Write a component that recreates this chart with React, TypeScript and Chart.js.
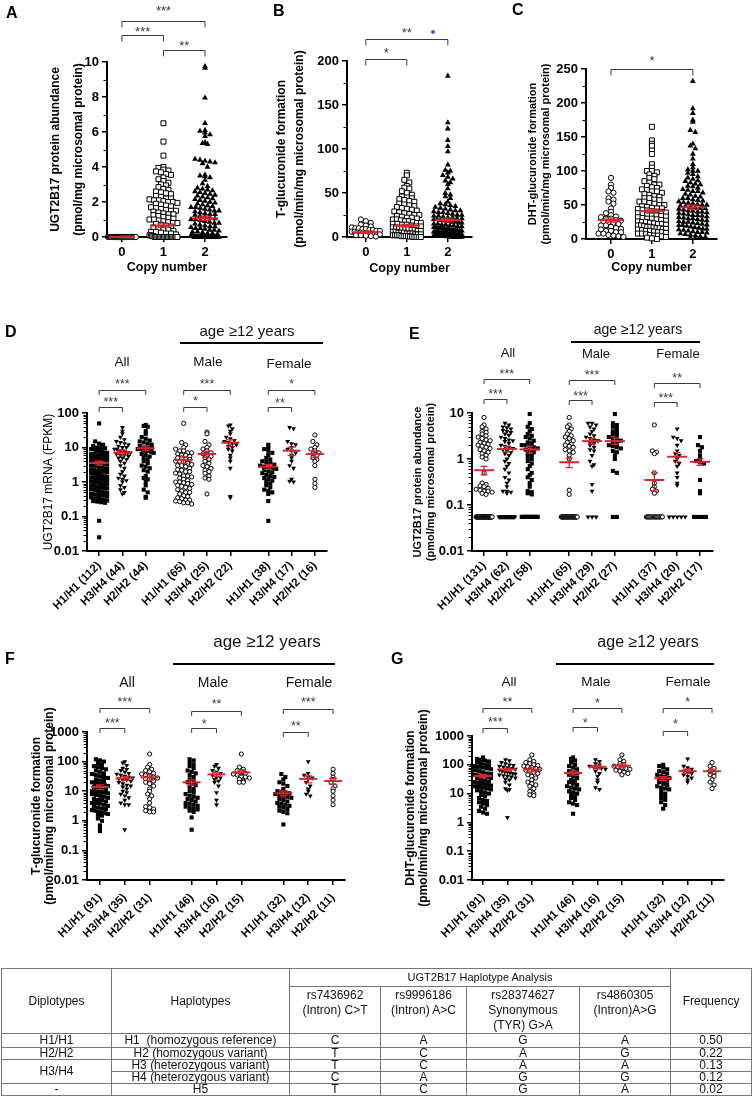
import React, { useEffect, useRef } from 'react';
import { Chart, registerables } from 'chart.js';

Chart.register(...registerables);

const FONT = 'Arial, "Liberation Sans", Helvetica, sans-serif';
const RED = '#d8262e';
const INK = '#000';
const BRACKET = '#3a3a3a';

// ---------------- data: panels A-C (copy number) ----------------
const copyNumbers = ['0', '1', '2'];

const aCopy0 = [0, 0, 0, 0, 0, 0, 0, 0, 0, 0, 0, 0, 0, 0, 0, 0, 0, 0, 0, 0, 0, 0, 0, 0, 0, 0, 0, 0, 0, 0];
const aCopy1 = [6.5, 5.45, 4.65, 4.0, 3.95, 3.85, 3.8, 3.75, 3.7, 3.6, 3.55, 3.4, 3.3, 3.2, 3.1, 3.0, 2.95, 2.85, 2.75, 2.7, 2.6, 2.55, 2.5, 2.45, 2.35, 2.3, 2.2, 2.2, 2.15, 2.1, 2.1, 2.05, 2.0, 2.0, 1.95, 1.9, 1.85, 1.8, 1.75, 1.7, 1.65, 1.6, 1.55, 1.5, 1.5, 1.45, 1.4, 1.35, 1.3, 1.3, 1.25, 1.2, 1.15, 1.1, 1.05, 1.0, 1.0, 0.95, 0.9, 0.85, 0.8, 0.8, 0.75, 0.7, 0.65, 0.6, 0.55, 0.5, 0.45, 0.4, 0.35, 0.3, 0.3, 0.25, 0.2, 0.2, 0.15, 0.1, 0.1, 0.05, 0.05, 0, 0, 0, 0, 0, 0, 0, 0, 0, 0, 0, 0, 0, 0, 0, 0, 0, 0];
const aCopy2 = [9.75, 9.65, 7.95, 6.5, 6.1, 6.05, 5.95, 5.85, 5.75, 5.4, 5.35, 5.3, 4.45, 4.4, 4.35, 4.3, 4.25, 4.2, 4.0, 3.55, 3.5, 3.45, 3.4, 3.25, 3.05, 2.9, 2.8, 2.75, 2.7, 2.65, 2.6, 2.55, 2.5, 2.45, 2.4, 2.35, 2.3, 2.25, 2.2, 2.15, 2.1, 2.05, 2.0, 1.95, 1.9, 1.85, 1.8, 1.75, 1.7, 1.7, 1.65, 1.6, 1.55, 1.5, 1.5, 1.45, 1.4, 1.35, 1.3, 1.3, 1.25, 1.2, 1.15, 1.1, 1.05, 1.0, 1.0, 0.95, 0.9, 0.85, 0.8, 0.8, 0.75, 0.7, 0.65, 0.6, 0.6, 0.55, 0.5, 0.5, 0.45, 0.4, 0.4, 0.35, 0.3, 0.3, 0.25, 0.2, 0.2, 0.15, 0.1, 0.1, 0.05, 0.05, 0, 0, 0, 0, 0, 0, 0, 0, 0, 0, 0, 0, 0, 0, 0, 0, 0, 0, 0, 0, 0, 0, 0, 0, 0, 0, 0, 0, 0, 0, 0, 0, 0, 0, 0];
const aMeans = [0, 0.65, 1.07];
const aSems = [0, 0.1, 0.12];
const aStars = ['***', '***', '**'];

const bCopy0 = [20, 18, 16, 14, 13, 12, 11, 10, 10, 9, 9, 8, 8, 7, 7, 6, 6, 5, 5, 5, 4, 4, 4, 3, 3, 3, 2, 2, 1.5, 1, 0.5];
const bCopy1 = [73, 70, 65, 62, 58, 56, 55, 52, 50, 48, 46, 45, 44, 43, 42, 41, 40, 38, 37, 36, 35, 34, 33, 32, 31, 30, 29, 28, 27, 26, 25, 25, 24, 23, 22, 22, 21, 20, 20, 19, 18, 18, 17, 16, 16, 15, 15, 14, 14, 13, 12, 12, 11, 11, 10, 10, 9, 9, 8, 8, 7, 7, 6, 6, 5, 5, 5, 4, 4, 4, 3, 3, 3, 2, 2, 2, 2, 1, 1, 1, 1, 0.5, 0.5, 0, 0, 0, 0];
const bCopy2 = [183, 130, 123, 110, 103, 97, 82, 76, 75, 73, 70, 68, 66, 64, 62, 60, 55, 50, 48, 46, 44, 40, 38, 37, 36, 35, 34, 33, 32, 31, 30, 30, 29, 28, 28, 27, 26, 25, 25, 24, 24, 23, 22, 22, 21, 21, 20, 20, 19, 19, 18, 18, 17, 17, 16, 16, 15, 15, 14, 14, 13, 13, 12, 12, 11, 11, 10, 10, 10, 9, 9, 9, 8, 8, 8, 7, 7, 7, 6, 6, 6, 5, 5, 5, 5, 4, 4, 4, 4, 3, 3, 3, 3, 2, 2, 2, 2, 1, 1, 1, 1, 1, 0.5, 0.5, 0.5, 0, 0, 0, 0, 0, 0, 0];
const bMeans = [5.3, 12.9, 19.3];
const bSems = [1.1, 1.5, 2.2];
const bStars = ['**', '*'];

const cCopy0 = [90, 80, 75, 70, 68, 60, 58, 55, 52, 45, 40, 38, 35, 33, 32, 30, 30, 28, 27, 26, 25, 24, 22, 20, 20, 18, 16, 15, 14, 12, 12, 10, 10, 8, 8, 6, 5, 4, 3];
const cCopy1 = [165, 145, 140, 137, 130, 125, 110, 105, 100, 100, 98, 95, 93, 90, 88, 85, 83, 80, 80, 78, 76, 75, 73, 72, 70, 70, 68, 66, 65, 63, 62, 60, 60, 58, 57, 55, 55, 53, 52, 50, 50, 48, 47, 46, 45, 45, 44, 43, 42, 41, 40, 40, 39, 38, 37, 36, 35, 35, 34, 33, 32, 31, 30, 30, 29, 28, 27, 26, 25, 25, 24, 23, 22, 22, 21, 20, 20, 19, 18, 18, 17, 16, 16, 15, 15, 14, 13, 12, 12, 11, 10, 10, 9, 8, 8, 7, 6, 5, 5, 4, 3, 2, 1, 0];
const cCopy2 = [232, 192, 185, 175, 172, 160, 157, 140, 137, 133, 125, 118, 110, 105, 102, 100, 100, 97, 95, 92, 90, 88, 86, 85, 83, 81, 80, 78, 77, 75, 73, 72, 70, 70, 68, 66, 65, 63, 62, 60, 60, 58, 57, 56, 55, 54, 53, 52, 51, 50, 50, 49, 48, 47, 46, 45, 45, 44, 43, 42, 41, 40, 40, 39, 38, 37, 36, 35, 35, 34, 33, 32, 31, 30, 30, 29, 28, 27, 26, 25, 25, 24, 23, 22, 21, 20, 20, 19, 18, 17, 16, 15, 15, 14, 13, 12, 11, 10, 10, 9, 8, 7, 6, 5, 4, 3, 2, 1];
const cMeans = [28, 41, 46.5];
const cSems = [3, 3, 3.3];
const cStars = ['*'];

// ---------------- data: panels D-G (diplotypes) ----------------
const groupNames = ['All', 'Male', 'Female'];
const ageHeading = 'age \u226512 years';

const dLabels = ['H1/H1 (112)', 'H3/H4 (44)', 'H2/H2 (44)', 'H1/H1 (65)', 'H3/H4 (25)', 'H2/H2 (22)', 'H1/H1 (38)', 'H3/H4 (17)', 'H2/H2 (16)'];
const dAllH11 = [50, 15, 13, 12, 11, 10, 10, 9.5, 9, 9, 8.5, 8, 8, 7.5, 7, 7, 6.5, 6.5, 6, 6, 5.5, 5.5, 5, 5, 4.7, 4.5, 4.3, 4, 4, 3.8, 3.6, 3.4, 3.2, 3, 3, 2.9, 2.7, 2.6, 2.5, 2.4, 2.3, 2.2, 2.1, 2, 2, 1.9, 1.8, 1.75, 1.7, 1.6, 1.55, 1.5, 1.45, 1.4, 1.35, 1.3, 1.25, 1.2, 1.15, 1.1, 1.05, 1, 1, 0.95, 0.9, 0.88, 0.85, 0.8, 0.78, 0.75, 0.72, 0.7, 0.67, 0.65, 0.62, 0.6, 0.58, 0.55, 0.52, 0.5, 0.48, 0.46, 0.44, 0.42, 0.4, 0.38, 0.36, 0.34, 0.32, 0.3, 0.29, 0.28, 0.27, 0.26, 0.25, 0.075, 0.025];
const dAllH34 = [38, 30, 25, 20, 17, 15, 14, 13, 12, 11, 10, 10, 9, 9, 8, 8, 7.5, 7, 7, 6.5, 6, 6, 5.5, 5, 5, 4.5, 4, 3.5, 3, 2.5, 2, 1.7, 1.5, 1.3, 1.2, 1.1, 1.0, 0.8, 0.7, 0.6, 0.5, 0.45];
const dAllH22 = [45, 42, 40, 30, 25, 20, 18, 16, 15, 14, 13, 12, 11, 10, 10, 9.5, 9, 9, 8.5, 8, 8, 7.5, 7, 6.5, 6, 5.5, 5, 4.5, 4, 3.5, 3, 2.8, 2.5, 2.2, 2, 1.5, 1.3, 1.2, 1, 0.8, 0.6, 0.5, 0.37, 0.35];
const dMaleH11 = [50, 14, 12, 10, 9, 8, 8, 7, 7, 6.5, 6, 6, 5.5, 5, 5, 4.5, 4.5, 4, 4, 3.8, 3.5, 3.2, 3, 3, 2.8, 2.5, 2.3, 2.2, 2, 2, 1.8, 1.7, 1.5, 1.5, 1.4, 1.3, 1.2, 1.1, 1, 1, 0.95, 0.9, 0.85, 0.8, 0.75, 0.7, 0.65, 0.6, 0.55, 0.5, 0.5, 0.45, 0.4, 0.38, 0.35, 0.33, 0.3, 0.3, 0.28, 0.27, 0.25, 0.25, 0.23];
const dMaleH34 = [28, 25, 15, 12, 10, 9, 8, 7, 6.5, 6, 5.5, 5, 4.5, 4, 3.5, 3, 2.8, 2.5, 2.2, 2, 1.8, 1.5, 1.3, 1.2, 0.45];
const dMaleH22 = [45, 42, 35, 30, 25, 20, 18, 16, 15, 14, 13, 12, 11, 10, 9, 8, 6, 5, 4, 2.5, 0.38, 0.35];
const dFemH11 = [12, 10, 9, 8, 7, 6, 5, 4.5, 4, 3.8, 3.5, 3.2, 3, 2.8, 2.6, 2.5, 2.4, 2.2, 2, 1.9, 1.8, 1.6, 1.5, 1.4, 1.3, 1.2, 1.1, 1, 0.9, 0.8, 0.7, 0.6, 0.55, 0.5, 0.45, 0.28, 0.075];
const dFemH34 = [38, 35, 15, 13, 12, 10, 9, 8, 7, 6, 5, 4, 3, 2.5, 1.2, 1.05, 1.0];
const dFemH22 = [23, 15, 12, 10, 9, 8, 7, 6.5, 6, 5, 4.5, 4, 3, 1.2, 0.9, 0.7];
const dMeans = [3.55, 7.1, 9.5, 4.35, 6.5, 13.8, 2.77, 8.1, 6.5];
const dSems = [0.45, 1.1, 1.5, 0.9, 1.4, 2.8, 0.45, 2.2, 1.5];
const dStars = ['***', '***', '***', '*', '*', '**'];

const eLabels = ['H1/H1 (131)', 'H3/H4 (62)', 'H2/H2 (58)', 'H1/H1 (65)', 'H3/H4 (29)', 'H2/H2 (27)', 'H1/H1 (37)', 'H3/H4 (20)', 'H2/H2 (17)'];
const eAllH11 = [8, 5.5, 5, 4.5, 4, 3.8, 3.5, 3.2, 3, 2.8, 2.6, 2.5, 2.3, 2.2, 2.1, 2, 1.9, 1.8, 1.7, 1.6, 1.5, 1.4, 1.3, 1.2, 1.1, 1.0, 0.5, 0.3, 0.28, 0.26, 0.25, 0.23, 0.22, 0.21, 0.2, 0.2, 0.19, 0.18, 0.17, 0.055, 0.055, 0.055, 0.055, 0.055, 0.055, 0.055, 0.055, 0.055, 0.055, 0.055, 0.055, 0.055, 0.055, 0.055, 0.055, 0.055, 0.055, 0.055, 0.055, 0.055, 0.055, 0.055, 0.055, 0.055, 0.055, 0.055, 0.055, 0.055, 0.055, 0.055, 0.055, 0.055, 0.055, 0.055];
const eAllH34 = [6, 5.5, 5, 4.8, 4.5, 4.2, 4, 3.8, 3.5, 3.3, 3, 2.8, 2.6, 2.5, 2.4, 2.2, 2, 1.9, 1.8, 1.7, 1.6, 1.5, 1.4, 1.3, 1.2, 1.0, 0.9, 0.8, 0.7, 0.6, 0.5, 0.4, 0.35, 0.3, 0.25, 0.2, 0.2, 0.19, 0.18, 0.055, 0.055, 0.055, 0.055, 0.055, 0.055, 0.055, 0.055, 0.055, 0.055, 0.055, 0.055, 0.055, 0.055, 0.055, 0.055, 0.055, 0.055, 0.055, 0.055];
const eAllH22 = [9.5, 6, 5, 4.5, 4, 3.5, 3.2, 3, 2.8, 2.5, 2.3, 2.2, 2, 2, 1.9, 1.8, 1.7, 1.6, 1.5, 1.4, 1.3, 1.2, 1.1, 1.0, 0.9, 0.8, 0.7, 0.6, 0.5, 0.45, 0.4, 0.35, 0.3, 0.25, 0.2, 0.19, 0.18, 0.17, 0.055, 0.055, 0.055, 0.055, 0.055, 0.055, 0.055, 0.055, 0.055, 0.055, 0.055, 0.055, 0.055, 0.055, 0.055, 0.055, 0.055, 0.055, 0.055, 0.055];
const eMaleH11 = [8, 5.5, 5, 4.5, 4, 3.5, 3.2, 3, 2.8, 2.5, 2.3, 2.1, 2, 1.9, 1.8, 1.6, 1.5, 1.4, 1.2, 1.0, 0.21, 0.17, 0.055, 0.055, 0.055, 0.055, 0.055, 0.055, 0.055, 0.055, 0.055, 0.055, 0.055, 0.055, 0.055, 0.055, 0.055, 0.055, 0.055, 0.055, 0.055, 0.055, 0.055, 0.055, 0.055, 0.055, 0.055];
const eMaleH34 = [6, 6, 5.5, 5, 4.5, 4, 3.5, 3.2, 3, 2.8, 2.6, 2.5, 2.3, 2.2, 2, 1.8, 1.6, 1.5, 1.2, 0.9, 0.75, 0.7, 0.28, 0.2, 0.055, 0.055, 0.055];
const eMaleH22 = [9.5, 6, 5.5, 5, 4.5, 4, 3.8, 3.5, 3.2, 3, 2.8, 2.6, 2.5, 2.3, 2.2, 2, 1.9, 1.8, 1.7, 1.5, 1.4, 1.2, 1.0, 0.55, 0.5, 0.055, 0.055];
const eFemH11 = [5.5, 1.5, 1.4, 1.3, 0.5, 0.3, 0.25, 0.22, 0.2, 0.18, 0.055, 0.055, 0.055, 0.055, 0.055, 0.055, 0.055, 0.055, 0.055, 0.055, 0.055, 0.055, 0.055, 0.055, 0.055];
const eFemH34 = [4.5, 3, 2.8, 2.5, 2, 1.5, 1.3, 1.2, 1.0, 0.9, 0.8, 0.7, 0.5, 0.4, 0.3, 0.27, 0.055, 0.055, 0.055, 0.055, 0.055];
const eFemH22 = [3, 2, 1.8, 1.5, 1.2, 1.0, 0.9, 0.85, 0.8, 0.35, 0.2, 0.18, 0.055, 0.055, 0.055, 0.055];
const eMeans = [0.57, 1.65, 1.62, 0.85, 2.45, 2.45, 0.35, 1.12, 0.87];
const eSems = [0.12, 0.22, 0.28, 0.2, 0.35, 0.38, 0.15, 0.25, 0.14];
const eStars = ['***', '***', '***', '***', '**', '***'];

const fgLabels = ['H1/H1 (91)', 'H3/H4 (35)', 'H2/H2 (31)', 'H1/H1 (46)', 'H3/H4 (16)', 'H2/H2 (15)', 'H1/H1 (32)', 'H3/H4 (12)', 'H2/H2 (11)'];
const fAllH11 = [120, 110, 100, 90, 80, 70, 65, 60, 55, 50, 45, 40, 38, 35, 32, 30, 28, 25, 23, 22, 20, 19, 18, 17, 16, 15, 14, 13, 12, 11, 10, 10, 9.5, 9, 8.5, 8, 7.5, 7, 6.5, 6, 5.5, 5, 5, 4.5, 4, 4, 3.8, 3.5, 3.2, 3, 2.8, 2.6, 2.5, 2.3, 2.2, 2, 1.9, 1.8, 1.7, 1.6, 1.5, 1.2, 1.0, 0.7, 0.6, 0.45];
const fAllH34 = [100, 90, 75, 60, 55, 50, 45, 40, 38, 35, 32, 30, 28, 26, 25, 24, 22, 20, 18, 16, 15, 14, 12, 10, 9, 8, 7, 6, 5, 4, 3.5, 3.5, 0.5];
const fAllH22 = [180, 80, 65, 55, 50, 45, 40, 38, 35, 33, 30, 28, 26, 25, 22, 20, 18, 15, 12, 10, 8, 7, 5.5, 4, 3, 2.8, 2.5, 2.2, 2, 2];
const fMaleH11 = [120, 110, 90, 80, 70, 60, 50, 45, 40, 35, 30, 25, 22, 20, 18, 16, 14, 12, 10, 9, 8, 7, 6.5, 6, 5.5, 5, 4.5, 4, 3.8, 3.5, 3.2, 3, 2.8, 2.6, 2.4, 2.2, 2, 1.3, 0.5];
const fMaleH34 = [80, 70, 60, 50, 45, 40, 35, 30, 28, 25, 22, 20, 15, 9, 5, 3.5];
const fMaleH22 = [180, 65, 55, 50, 45, 40, 38, 35, 32, 30, 28, 25, 22, 20, 20];
const fFemH11 = [38, 30, 25, 20, 18, 15, 12, 10, 9.5, 9, 8.5, 8, 7.5, 7, 6.5, 6, 5.5, 5, 4.5, 4, 3.8, 3.5, 3.2, 3, 2.8, 2.5, 2.2, 2, 1.8, 0.75];
const fFemH34 = [100, 40, 35, 30, 28, 25, 20, 15, 12, 10, 8, 7];
const fFemH22 = [55, 40, 30, 25, 20, 15, 12, 10, 7, 5, 3.5];
const fMeans = [13.8, 27, 29.5, 20, 37, 43, 8.5, 26, 22];
const fSems = [2.5, 4, 6, 4, 6, 9, 1.5, 7, 5];
const fStars = ['***', '***', '**', '*', '***', '**'];

const gAllH11 = [180, 160, 150, 140, 130, 120, 110, 100, 95, 90, 85, 80, 75, 70, 65, 60, 55, 50, 48, 45, 42, 40, 38, 35, 33, 30, 28, 26, 25, 23, 22, 20, 19, 18, 17, 16, 15, 14, 13, 12, 11, 10, 9, 8, 7, 6, 5.5, 5, 4.5, 4, 3.5, 3, 2.5, 2.2, 2];
const gAllH34 = [150, 140, 120, 110, 100, 95, 90, 85, 80, 75, 70, 65, 60, 58, 55, 52, 50, 48, 45, 42, 40, 38, 35, 32, 30, 25, 20, 15, 14, 13, 1.5];
const gAllH22 = [220, 150, 130, 120, 110, 100, 95, 90, 85, 80, 75, 70, 65, 60, 55, 50, 45, 40, 35, 30, 25, 22, 20, 18, 15, 12, 10, 9, 8.5];
const gMaleH11 = [180, 160, 140, 120, 100, 90, 80, 70, 60, 55, 50, 45, 40, 35, 30, 28, 25, 22, 20, 18, 16, 15, 14, 12, 11, 10, 9, 8, 7, 6, 5, 4.5, 4, 2];
const gMaleH34 = [150, 130, 110, 100, 90, 85, 80, 75, 70, 60, 50, 40, 30, 25, 16, 14];
const gMaleH22 = [220, 150, 130, 110, 100, 90, 85, 80, 75, 70, 65, 60, 55, 50, 45];
const gFemH11 = [100, 90, 80, 70, 60, 55, 50, 45, 40, 38, 35, 32, 30, 28, 25, 22, 20, 18, 16, 15, 14, 12, 10, 9, 8, 7, 6, 5, 4, 3];
const gFemH34 = [160, 90, 80, 70, 60, 55, 50, 45, 40, 35, 30, 25];
const gFemH22 = [120, 90, 75, 60, 50, 45, 40, 30, 25, 20, 15];
const gMeans = [41, 69, 69, 52, 85, 93, 34, 60, 60];
const gSems = [5, 8, 12, 8, 12, 15, 5, 10, 11];
const gStars = ['**', '***', '*', '*', '*', '*'];

// ---------------- table data ----------------
const tableTitle = 'UGT2B17 Haplotype Analysis';
const snpIds = ['rs7436962', 'rs9996186', 'rs28374627', 'rs4860305'];
const snpDescs = [['(Intron) C>T'], ['(Intron) A>C'], ['Synonymous', '(TYR) G>A'], ['(Intron)A>G']];
const diplotypes = ['H1/H1', 'H2/H2', 'H3/H4', 'H3/H4', '-'];
const haplotypes = ['H1  (homozygous reference)', 'H2 (homozygous variant)', 'H3 (heterozygous variant)', 'H4 (heterozygous variant)', 'H5'];
const alleles = [['C', 'A', 'G', 'A'], ['T', 'C', 'A', 'G'], ['T', 'C', 'A', 'A'], ['C', 'A', 'G', 'G'], ['T', 'C', 'G', 'A']];
const frequencies = ['0.50', '0.22', '0.13', '0.12', '0.02'];

// ---------------- helpers ----------------
function logMinors(lo: number, hi: number) {
  const out: number[] = [];
  for (let e = Math.round(Math.log10(lo)); e < Math.round(Math.log10(hi)); e++) {
    for (let m = 2; m <= 9; m++) out.push(m * Math.pow(10, e));
  }
  return out;
}
function groupPositions(n: number, gap: number) {
  return Array.from({ length: n }, (_, i) => (i % 3) + Math.floor(i / 3) * gap);
}

function swarm(values: number[], cx: number, s: any) {
  const f = (v: number) => (s.yType === 'logarithmic' ? Math.log10(v) : v);
  const lo = f(s.yMin), hi = f(s.yMax);
  const hPx = s.area.b - s.area.t;
  const pxPerX = (s.area.r - s.area.l) / (s.xMax - s.xMin);
  const rows = new Map<number, number[]>();
  values.forEach((v) => {
    const k = Math.round((((f(v) - lo) / (hi - lo)) * hPx) / s.binPx);
    if (!rows.has(k)) rows.set(k, []);
    rows.get(k)!.push(v);
  });
  const pts: { x: number; y: number }[] = [];
  rows.forEach((row) => {
    const n = row.length;
    let step = s.stepPx;
    if (n > 1 && ((n - 1) * step) / 2 > s.maxHalfPx) step = (2 * s.maxHalfPx) / (n - 1);
    row.forEach((v, i) => pts.push({ x: cx + ((i - (n - 1) / 2) * step) / pxPerX, y: v }));
  });
  return pts;
}

function buildConfig(s: any) {
  const L = s.area.l - s.left, R = s.area.r - s.left, T = s.area.t - s.top, B = s.area.b - s.top;
  const xH = s.h - B;
  const marker = (m: string) => {
    switch (m) {
      case 'sq': return { pointStyle: 'rect', pointRadius: s.rectR, backgroundColor: INK, borderWidth: 0 };
      case 'osq': return { pointStyle: 'rect', pointRadius: s.rectR, backgroundColor: '#fff', borderWidth: 1 };
      case 'oc': return { pointStyle: 'circle', pointRadius: s.circR, backgroundColor: '#fff', borderWidth: 1 };
      case 'tri': return { pointStyle: 'triangle', pointRadius: s.triR, backgroundColor: INK, borderWidth: 0 };
      default: return { pointStyle: 'triangle', pointRadius: s.triR, rotation: 180, pointRotation: 180, backgroundColor: INK, borderWidth: 0 };
    }
  };
  const datasets = s.groups.map((g: any, i: number) => ({
    data: swarm(g.values, s.xs[i], s),
    borderColor: INK,
    clip: false,
    showLine: false,
    ...marker(g.marker),
  }));
  const yTitleLH = s.yTitleLine;
  const overlay = {
    id: 'panelOverlay',
    afterDatasetsDraw(chart: any) {
      const { ctx } = chart;
      const xs = chart.scales.x, ys = chart.scales.y;
      ctx.save();
      ctx.strokeStyle = RED;
      s.means.forEach((m: number, i: number) => {
        const cx = xs.getPixelForValue(s.xs[i]);
        const py = ys.getPixelForValue(m);
        ctx.lineWidth = 2;
        ctx.beginPath();
        ctx.moveTo(cx - s.meanHalf, py);
        ctx.lineTo(cx + s.meanHalf, py);
        ctx.stroke();
        const e = s.sems[i];
        if (e > 0) {
          const pt = ys.getPixelForValue(m + e);
          const pb = ys.getPixelForValue(Math.max(m - e, s.yMin));
          ctx.lineWidth = 1.3;
          ctx.beginPath();
          ctx.moveTo(cx, pt); ctx.lineTo(cx, pb);
          ctx.moveTo(cx - s.capHalf, pt); ctx.lineTo(cx + s.capHalf, pt);
          ctx.moveTo(cx - s.capHalf, pb); ctx.lineTo(cx + s.capHalf, pb);
          ctx.stroke();
        }
      });
      ctx.restore();
    },
    afterDraw(chart: any) {
      const { ctx, chartArea } = chart;
      const xs = chart.scales.x, ys = chart.scales.y;
      ctx.save();
      ctx.strokeStyle = INK;
      ctx.lineWidth = 1;
      s.yMinor.forEach((v: number) => {
        const py = Math.round(ys.getPixelForValue(v)) + 0.5;
        ctx.beginPath();
        ctx.moveTo(chartArea.left - 3.5, py);
        ctx.lineTo(chartArea.left, py);
        ctx.stroke();
      });
      ctx.strokeStyle = BRACKET;
      ctx.fillStyle = BRACKET;
      ctx.lineWidth = 1;
      ctx.font = `${s.starSize}px ${FONT}`;
      ctx.textAlign = 'center';
      ctx.textBaseline = 'alphabetic';
      s.brackets.forEach((b: number[], i: number) => {
        const x1 = xs.getPixelForValue(s.xs[b[0]]);
        const x2 = xs.getPixelForValue(s.xs[b[1]]);
        const yl = b[2] - s.top + 0.5;
        ctx.beginPath();
        ctx.moveTo(x1, yl + s.drop);
        ctx.lineTo(x1, yl);
        ctx.lineTo(x2, yl);
        ctx.lineTo(x2, yl + s.drop);
        ctx.stroke();
        ctx.fillText(s.stars[i], (x1 + x2) / 2, b[3] - s.top + 0.57 * s.starSize);
      });
      ctx.restore();
    },
  };
  const gridOpts = { display: true, drawOnChartArea: false, drawTicks: true, tickLength: 5, color: INK, lineWidth: 1.5 };
  const borderOpts = { display: true, color: INK, width: 2 };
  const xTitleLH = s.xTitle ? s.xTitleSize * 1.2 : 0;
  return {
    type: 'scatter',
    data: { datasets },
    plugins: [overlay],
    options: {
      animation: false,
      responsive: false,
      maintainAspectRatio: false,
      devicePixelRatio: 1,
      events: [],
      layout: { padding: { left: 0, top: T, right: s.w - R, bottom: 0 } },
      plugins: { legend: { display: false }, tooltip: { enabled: false } },
      scales: {
        x: {
          type: 'linear',
          bounds: 'data',
          min: s.xMin,
          max: s.xMax,
          afterBuildTicks: (sc: any) => { sc.ticks = s.xs.map((v: number) => ({ value: v })); },
          afterFit: (sc: any) => { sc.height = xH; sc.paddingLeft = 0; sc.paddingRight = 0; sc.paddingTop = 0; sc.paddingBottom = 0; },
          ticks: {
            autoSkip: false,
            maxRotation: s.rot,
            minRotation: s.rot,
            padding: s.xTickPad,
            color: INK,
            font: { family: FONT, size: s.xTickSize, weight: 'bold' },
            callback: (_v: any, i: number) => s.xLabels[i] ?? '',
          },
          grid: gridOpts,
          border: borderOpts,
          title: s.xTitle
            ? {
                display: true,
                text: s.xTitle,
                color: INK,
                font: { family: FONT, size: s.xTitleSize, weight: 'bold', lineHeight: 1.2 },
                padding: { top: 0, bottom: s.h - (s.xTitleY - s.top) - xTitleLH / 2 },
              }
            : { display: false },
        },
        y: {
          type: s.yType,
          bounds: 'data',
          min: s.yMin,
          max: s.yMax,
          afterBuildTicks: (sc: any) => { sc.ticks = s.yTicks.map((v: number) => ({ value: v })); },
          afterFit: (sc: any) => { sc.width = L; sc.paddingTop = 0; sc.paddingBottom = 0; sc.paddingLeft = 0; sc.paddingRight = 0; },
          ticks: {
            autoSkip: false,
            padding: 3,
            color: INK,
            font: { family: FONT, size: s.yTickSize, weight: 'bold' },
            callback: (v: any) => String(v),
          },
          grid: gridOpts,
          border: borderOpts,
          title: {
            display: true,
            text: s.yTitle,
            color: INK,
            font: { family: FONT, size: s.yTitleSize, weight: s.yTitleWeight, lineHeight: yTitleLH + 'px' },
            padding: { top: s.yTitleX - s.left - yTitleLH / 2, bottom: 0 },
          },
        },
      },
    },
  };
}

function DotPanel({ spec }: { spec: any }) {
  const ref = useRef<HTMLCanvasElement>(null);
  useEffect(() => {
    const chart = new Chart(ref.current as HTMLCanvasElement, buildConfig(spec) as any);
    return () => chart.destroy();
  }, [spec]);
  return (
    <canvas
      ref={ref}
      width={spec.w}
      height={spec.h}
      style={{ position: 'absolute', left: spec.left, top: spec.top, width: spec.w, height: spec.h }}
    />
  );
}

// ---------------- panel specs (layout and style) ----------------
const topCommon = { rot: 0, xTickSize: 13, xTickPad: 3, yTickSize: 13, xTitle: 'Copy number', xTitleSize: 12.5, yType: 'linear', binPx: 4, stepPx: 5, maxHalfPx: 14, circR: 2.6, rectR: 3.5, triR: 3.4, meanHalf: 13, capHalf: 6, starSize: 13, drop: 6, yTitleWeight: 'bold', xs: [0, 1, 2], xLabels: copyNumbers };

const specA = {
  ...topCommon, left: 0, top: 0, w: 250, h: 285, area: { l: 107, r: 227, t: 62, b: 237 },
  xMin: -0.36, xMax: 2.53, xTitleY: 268,
  yMin: 0, yMax: 10, yTicks: [0, 2, 4, 6, 8, 10], yMinor: [1, 3, 5, 7, 9],
  yTitle: ['UGT2B17 protein abundance', '(pmol/mg microsomal protein)'], yTitleSize: 12, yTitleLine: 23, yTitleX: 56,
  groups: [{ values: aCopy0, marker: 'oc' }, { values: aCopy1, marker: 'osq' }, { values: aCopy2, marker: 'tri' }],
  means: aMeans, sems: aSems, stars: aStars,
  brackets: [[0, 2, 21, 8], [0, 1, 35, 29], [1, 2, 50, 43]],
};
const specB = {
  ...topCommon, left: 250, top: 0, w: 250, h: 285, area: { l: 347, r: 472, t: 61, b: 237 },
  xMin: -0.46, xMax: 2.59, xTitleY: 269,
  yMin: 0, yMax: 200, yTicks: [0, 50, 100, 150, 200], yMinor: [25, 75, 125, 175],
  yTitle: ['T-glucuronide formation', '(pmol/min/mg microsomal protein)'], yTitleSize: 12, yTitleLine: 18, yTitleX: 282,
  groups: [{ values: bCopy0, marker: 'oc' }, { values: bCopy1, marker: 'osq' }, { values: bCopy2, marker: 'tri' }],
  means: bMeans, sems: bSems, stars: bStars,
  brackets: [[0, 2, 39, 30], [0, 1, 59, 50]],
};
const specC = {
  ...topCommon, left: 500, top: 0, w: 252, h: 285, area: { l: 586, r: 717, t: 69, b: 239 },
  xMin: -0.61, xMax: 2.59, xTitleY: 268,
  yMin: 0, yMax: 250, yTicks: [0, 50, 100, 150, 200, 250], yMinor: [25, 75, 125, 175, 225],
  yTitle: ['DHT-glucuronide formation', '(pmol/min/mg microsomal protein)'], yTitleSize: 11, yTitleLine: 12.5, yTitleX: 533,
  groups: [{ values: cCopy0, marker: 'oc' }, { values: cCopy1, marker: 'osq' }, { values: cCopy2, marker: 'tri' }],
  means: cMeans, sems: cSems, stars: cStars,
  brackets: [[0, 2, 69, 58]],
};

const lowCommon = { rot: 45, xTickSize: 11.5, xTickPad: 3, yTickSize: 13, yType: 'logarithmic', yMin: 0.01, binPx: 4, stepPx: 4, maxHalfPx: 8, circR: 2.1, rectR: 2.9, triR: 2.8, meanHalf: 9, capHalf: 4, starSize: 12.5, drop: 4.5, yTitleWeight: 'bold' };

const specD = {
  ...lowCommon, left: 0, top: 300, w: 376, h: 320, area: { l: 87, r: 327, t: 413, b: 551 },
  xMin: -0.52, xMax: 9.78, xs: groupPositions(9, 3.63), xLabels: dLabels,
  yMax: 100, yTicks: [0.01, 0.1, 1, 10, 100], yMinor: logMinors(0.01, 100),
  yTitle: ['UGT2B17 mRNA (FPKM)'], yTitleSize: 12, yTitleWeight: 'normal', yTitleLine: 14, yTitleX: 49,
  groups: [
    { values: dAllH11, marker: 'sq' }, { values: dAllH34, marker: 'dtri' }, { values: dAllH22, marker: 'sq' },
    { values: dMaleH11, marker: 'oc' }, { values: dMaleH34, marker: 'oc' }, { values: dMaleH22, marker: 'dtri' },
    { values: dFemH11, marker: 'sq' }, { values: dFemH34, marker: 'dtri' }, { values: dFemH22, marker: 'oc' },
  ],
  means: dMeans, sems: dSems, stars: dStars,
  brackets: [[0, 2, 390, 381], [0, 1, 407, 399], [3, 5, 390, 381], [3, 4, 407, 398], [6, 8, 390, 381], [6, 7, 407, 400]],
};
const specE = {
  ...lowCommon, left: 376, top: 300, w: 376, h: 320, area: { l: 472, r: 713, t: 413, b: 551 },
  xMin: -0.53, xMax: 10.03, xs: groupPositions(9, 3.73), xLabels: eLabels,
  yMax: 10, yTicks: [0.01, 0.1, 1, 10], yMinor: logMinors(0.01, 10),
  yTitle: ['UGT2B17 protein abundance', '(pmol/mg microsomal protein)'], yTitleSize: 11, yTitleLine: 12.5, yTitleX: 418,
  meanHalf: 10, capHalf: 3.5,
  groups: [
    { values: eAllH11, marker: 'oc' }, { values: eAllH34, marker: 'dtri' }, { values: eAllH22, marker: 'sq' },
    { values: eMaleH11, marker: 'oc' }, { values: eMaleH34, marker: 'dtri' }, { values: eMaleH22, marker: 'sq' },
    { values: eFemH11, marker: 'oc' }, { values: eFemH34, marker: 'dtri' }, { values: eFemH22, marker: 'sq' },
  ],
  means: eMeans, sems: eSems, stars: eStars,
  brackets: [[0, 2, 379, 371], [0, 1, 399, 391], [3, 5, 380, 372], [3, 4, 400, 393], [6, 8, 383, 375], [6, 7, 402, 395]],
};
const specF = {
  ...lowCommon, left: 0, top: 620, w: 376, h: 350, area: { l: 87, r: 345, t: 732, b: 880 }, xTickPad: 6,
  xMin: -0.52, xMax: 9.86, xs: groupPositions(9, 3.69), xLabels: fgLabels,
  yMax: 1000, yTicks: [0.01, 0.1, 1, 10, 100, 1000], yMinor: logMinors(0.01, 1000),
  yTitle: ['T-glucuronide formation', '(pmol/min/mg microsomal protein)'], yTitleSize: 12, yTitleLine: 13, yTitleX: 37,
  groups: [
    { values: fAllH11, marker: 'sq' }, { values: fAllH34, marker: 'dtri' }, { values: fAllH22, marker: 'oc' },
    { values: fMaleH11, marker: 'sq' }, { values: fMaleH34, marker: 'dtri' }, { values: fMaleH22, marker: 'oc' },
    { values: fFemH11, marker: 'sq' }, { values: fFemH34, marker: 'dtri' }, { values: fFemH22, marker: 'oc' },
  ],
  means: fMeans, sems: fSems, stars: fStars,
  brackets: [[0, 2, 708, 699], [0, 1, 728, 720], [3, 5, 711, 701], [3, 4, 728, 721], [6, 8, 709, 699], [6, 7, 732, 723]],
};
const specG = {
  ...lowCommon, left: 376, top: 620, w: 376, h: 350, area: { l: 472, r: 724, t: 736, b: 880 }, xTickPad: 6,
  xMin: -0.45, xMax: 9.87, xs: groupPositions(9, 3.69), xLabels: fgLabels,
  yMax: 1000, yTicks: [0.01, 0.1, 1, 10, 100, 1000], yMinor: logMinors(0.01, 1000),
  yTitle: ['DHT-glucuronide formation', '(pmol/min/mg microsomal protein)'], yTitleSize: 12, yTitleLine: 13, yTitleX: 411,
  groups: [
    { values: gAllH11, marker: 'sq' }, { values: gAllH34, marker: 'dtri' }, { values: gAllH22, marker: 'oc' },
    { values: gMaleH11, marker: 'sq' }, { values: gMaleH34, marker: 'dtri' }, { values: gMaleH22, marker: 'oc' },
    { values: gFemH11, marker: 'sq' }, { values: gFemH34, marker: 'dtri' }, { values: gFemH22, marker: 'oc' },
  ],
  means: gMeans, sems: gSems, stars: gStars,
  brackets: [[0, 2, 708, 699], [0, 1, 728, 719], [3, 5, 708, 700], [3, 4, 727, 720], [6, 8, 708, 699], [6, 7, 731, 721]],
};

// ---------------- HTML text overlays ----------------
function Letter({ x, y, children }: any) {
  return (
    <div style={{ position: 'absolute', left: x, top: y, fontFamily: FONT, fontSize: 16, fontWeight: 'bold', lineHeight: 1, color: '#000' }}>
      {children}
    </div>
  );
}
function Label({ x, y, size, children }: any) {
  return (
    <div style={{ position: 'absolute', left: x, top: y, transform: 'translate(-50%, -50%)', fontFamily: FONT, fontSize: size, lineHeight: 1, whiteSpace: 'nowrap', color: '#111' }}>
      {children}
    </div>
  );
}
function Rule({ x1, x2, y }: any) {
  return <div style={{ position: 'absolute', left: x1, top: y - 1.25, width: x2 - x1, height: 2.5, background: '#000' }} />;
}
function SectionHeads({ age, rule, groups, ageSize, groupSize }: any) {
  return (
    <>
      <Label x={age[0]} y={age[1]} size={ageSize}>{ageHeading}</Label>
      <Rule x1={rule[0]} x2={rule[1]} y={rule[2]} />
      {groupNames.map((g, i) => (
        <Label key={g} x={groups[i][0]} y={groups[i][1]} size={groupSize}>{g}</Label>
      ))}
    </>
  );
}

const cellBase: any = {
  border: '1px solid #777',
  padding: 0,
  textAlign: 'center',
  verticalAlign: 'middle',
  fontFamily: FONT,
  fontSize: 12,
  lineHeight: '11px',
  color: '#111',
  overflow: 'hidden',
  whiteSpace: 'pre',
};
const rowHeights = [14, 12, 12, 12, 12];

function HaplotypeTable() {
  return (
    <table style={{ position: 'absolute', left: 1, top: 968, width: 750, borderCollapse: 'collapse', tableLayout: 'fixed' }}>
      <colgroup>
        {[110, 178, 91, 86, 113, 91, 81].map((w, i) => <col key={i} style={{ width: w }} />)}
      </colgroup>
      <tbody>
        <tr style={{ height: 18 }}>
          <td rowSpan={2} style={{ ...cellBase }}>Diplotypes</td>
          <td rowSpan={2} style={{ ...cellBase }}>Haplotypes</td>
          <td colSpan={4} style={{ ...cellBase, fontSize: 11 }}>{tableTitle}</td>
          <td rowSpan={2} style={{ ...cellBase }}>Frequency</td>
        </tr>
        <tr style={{ height: 47 }}>
          {snpIds.map((id, i) => (
            <td key={id} style={{ ...cellBase, verticalAlign: 'top', lineHeight: '15px', paddingTop: 1, whiteSpace: 'normal' }}>
              {id}
              {snpDescs[i].map((d) => (
                <React.Fragment key={d}><br />{d}</React.Fragment>
              ))}
            </td>
          ))}
        </tr>
        {haplotypes.map((h, r) => (
          <tr key={h} style={{ height: rowHeights[r] }}>
            {r === 2 ? <td rowSpan={2} style={cellBase}>{diplotypes[r]}</td> : r === 3 ? null : <td style={cellBase}>{diplotypes[r]}</td>}
            <td style={cellBase}>{h}</td>
            {alleles[r].map((a, k) => <td key={k} style={cellBase}>{a}</td>)}
            <td style={cellBase}>{frequencies[r]}</td>
          </tr>
        ))}
      </tbody>
    </table>
  );
}

export default function App() {
  return (
    <div style={{ position: 'absolute', left: 0, top: 0, width: 752, height: 1112, background: '#fff', overflow: 'hidden' }}>
      <DotPanel spec={specA} />
      <DotPanel spec={specB} />
      <DotPanel spec={specC} />
      <DotPanel spec={specD} />
      <DotPanel spec={specE} />
      <DotPanel spec={specF} />
      <DotPanel spec={specG} />

      <Letter x={6} y={5}>A</Letter>
      <Letter x={273} y={3}>B</Letter>
      <Letter x={512} y={2}>C</Letter>
      <Letter x={5} y={324}>D</Letter>
      <Letter x={409} y={326}>E</Letter>
      <Letter x={5} y={651}>F</Letter>
      <Letter x={391} y={651}>G</Letter>

      <div style={{ position: 'absolute', left: 431, top: 30, width: 4, height: 4, borderRadius: 2, background: '#4455cc' }} />

      <SectionHeads age={[247, 330]} rule={[180, 323, 343]} groups={[[122, 362], [208, 362], [289, 364]]} ageSize={15} groupSize={13.5} />
      <SectionHeads age={[638, 329]} rule={[571, 700, 342]} groups={[[508, 352], [596, 353], [678, 353]]} ageSize={14} groupSize={13} />
      <SectionHeads age={[267, 641]} rule={[173, 335, 664]} groups={[[127, 682], [213, 682], [309, 682]]} ageSize={17} groupSize={14} />
      <SectionHeads age={[648, 642]} rule={[556, 714, 664]} groups={[[509, 682], [596, 682], [688, 682]]} ageSize={16} groupSize={13.5} />

      <HaplotypeTable />
    </div>
  );
}
